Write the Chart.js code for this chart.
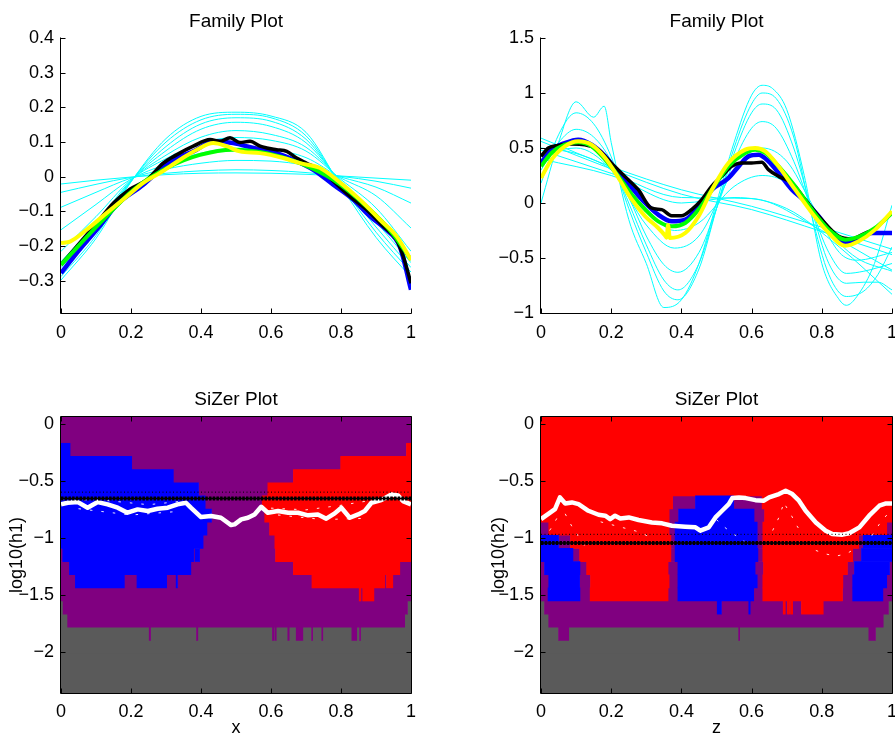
<!DOCTYPE html>
<html>
<head>
<meta charset="utf-8">
<title>Family and SiZer plots</title>
<script src="https://cdn.jsdelivr.net/npm/chart.js@4.4.1/dist/chart.umd.min.js"></script>
<style>
  html, body { margin: 0; padding: 0; background: #fff; }
  body { position: relative; width: 895px; height: 740px; overflow: hidden; }
  canvas { position: absolute; }
</style>
</head>
<body>
<canvas id="fam1" width="440" height="350" style="left:0;top:0"></canvas>
<canvas id="fam2" width="450" height="350" style="left:460px;top:0"></canvas>
<canvas id="siz1" width="440" height="360" style="left:0;top:380px"></canvas>
<canvas id="siz2" width="450" height="360" style="left:460px;top:380px"></canvas>
<script>
Chart.defaults.font.family = "'Liberation Sans', Arial, Helvetica, sans-serif";
Chart.defaults.font.size = 18;
Chart.defaults.color = '#000';

// tick labels
const xTicks = [0, 0.2, 0.4, 0.6, 0.8, 1];
const famTicks1 = [-0.3, -0.2, -0.1, 0, 0.1, 0.2, 0.3, 0.4];
const famTicks2 = [-1, -0.5, 0, 0.5, 1, 1.5];
const sizTicks = [-2, -1.5, -1, -0.5, 0];

// ---- family plot 1 (x) ----
const famX = [0, 0.1, 0.2, 0.3, 0.4, 0.5, 0.6, 0.7, 0.8, 0.9, 1];
const famCyan1 = [
  [-0.021, -0.010, -0.001, 0.006, 0.010, 0.011, 0.010, 0.007, 0.002, -0.004, -0.010],
  [-0.045, -0.022, -0.002, 0.010, 0.017, 0.020, 0.018, 0.012, 0.001, -0.013, -0.033],
  [-0.088, -0.045, -0.004, 0.022, 0.039, 0.047, 0.045, 0.032, -0.001, -0.030, -0.076],
  [-0.153, -0.080, -0.007, 0.036, 0.068, 0.082, 0.078, 0.055, -0.004, -0.055, -0.148],
  [-0.215, -0.115, -0.009, 0.052, 0.097, 0.113, 0.105, 0.074, -0.008, -0.090, -0.215],
  [-0.245, -0.135, -0.011, 0.062, 0.114, 0.133, 0.122, 0.085, -0.012, -0.110, -0.232],
  [-0.262, -0.150, -0.012, 0.075, 0.137, 0.157, 0.145, 0.098, -0.016, -0.130, -0.248],
  [-0.278, -0.160, -0.013, 0.087, 0.152, 0.170, 0.160, 0.108, -0.020, -0.145, -0.262],
  [-0.288, -0.170, -0.014, 0.100, 0.164, 0.180, 0.170, 0.118, -0.024, -0.160, -0.275],
  [-0.298, -0.178, -0.015, 0.110, 0.174, 0.186, 0.175, 0.128, -0.028, -0.175, -0.290]
];
const famBlack1 = [[0,-0.254],[0.045,-0.201],[0.102,-0.134],[0.15,-0.076],[0.197,-0.036],[0.245,-0.009],[0.292,0.039],[0.33,0.063],[0.378,0.088],[0.426,0.107],[0.454,0.102],[0.483,0.112],[0.511,0.099],[0.54,0.102],[0.569,0.088],[0.588,0.083],[0.616,0.078],[0.645,0.073],[0.673,0.054],[0.702,0.039],[0.74,0.02],[0.778,-0.013],[0.826,-0.057],[0.873,-0.095],[0.921,-0.143],[0.959,-0.182],[0.978,-0.23],[1,-0.307]];
const famBlue1 = [[0,-0.278],[0.045,-0.22],[0.11,-0.143],[0.159,-0.081],[0.235,-0.023],[0.283,0.02],[0.33,0.054],[0.378,0.073],[0.435,0.102],[0.492,0.097],[0.55,0.083],[0.616,0.068],[0.664,0.049],[0.721,0.02],[0.778,-0.023],[0.835,-0.066],[0.883,-0.114],[0.93,-0.153],[0.968,-0.201],[1,-0.326]];
const famGreen1 = [[0,-0.254],[0.111,-0.134],[0.207,-0.038],[0.302,0.025],[0.397,0.063],[0.492,0.078],[0.588,0.068],[0.683,0.039],[0.778,-0.009],[0.873,-0.086],[0.95,-0.167],[1,-0.24]];
const famYellow1 = [[0,-0.191],[0.026,-0.187],[0.073,-0.153],[0.13,-0.105],[0.188,-0.057],[0.235,-0.018],[0.283,0.011],[0.34,0.049],[0.388,0.078],[0.435,0.097],[0.473,0.088],[0.511,0.073],[0.569,0.068],[0.635,0.054],[0.683,0.039],[0.74,0.025],[0.788,-0.009],[0.854,-0.066],[0.911,-0.124],[0.959,-0.172],[1,-0.24]];

// ---- family plot 2 (z) ----
const famCyan2 = [
  [[0,0.0],[0.05,0.55],[0.1,0.92],[0.15,0.78],[0.18,0.88],[0.2,0.55],[0.25,-0.15],[0.3,-0.55],[0.35,-0.95],[0.4,-0.88],[0.45,-0.55],[0.5,0.0],[0.55,0.55],[0.6,0.98],[0.63,1.07],[0.66,1.04],[0.7,0.85],[0.75,0.25],[0.8,-0.55],[0.85,-0.88],[0.87,-0.93],[0.9,-0.85],[0.95,-0.55],[1,-0.02]],
  [[0,0.18],[0.05,0.62],[0.1,0.82],[0.15,0.72],[0.2,0.42],[0.25,-0.05],[0.3,-0.45],[0.35,-0.8],[0.39,-0.88],[0.45,-0.6],[0.5,-0.05],[0.55,0.5],[0.6,0.9],[0.63,1.0],[0.67,0.95],[0.72,0.6],[0.77,-0.1],[0.82,-0.65],[0.87,-0.85],[0.92,-0.8],[0.96,-0.65],[1,-0.4]],
  [[0,0.3],[0.05,0.55],[0.1,0.67],[0.15,0.6],[0.2,0.38],[0.25,0.0],[0.3,-0.38],[0.35,-0.7],[0.39,-0.79],[0.45,-0.55],[0.5,-0.05],[0.55,0.45],[0.6,0.82],[0.63,0.9],[0.67,0.85],[0.72,0.5],[0.77,-0.05],[0.82,-0.55],[0.87,-0.73],[0.92,-0.72],[0.96,-0.72],[1,-0.79]],
  [[0,0.42],[0.05,0.5],[0.1,0.56],[0.15,0.5],[0.2,0.33],[0.25,0.05],[0.3,-0.3],[0.35,-0.56],[0.39,-0.63],[0.45,-0.45],[0.5,-0.05],[0.55,0.38],[0.6,0.68],[0.63,0.74],[0.67,0.68],[0.72,0.38],[0.77,-0.05],[0.82,-0.45],[0.87,-0.64],[0.92,-0.62],[1,-0.55]],
  [[0,0.45],[0.1,0.5],[0.2,0.3],[0.3,-0.2],[0.38,-0.41],[0.45,-0.3],[0.55,0.3],[0.63,0.5],[0.7,0.38],[0.77,0.0],[0.85,-0.45],[0.9,-0.52],[1,-0.45]],
  [[0,0.5],[0.1,0.45],[0.2,0.3],[0.3,-0.05],[0.38,-0.25],[0.45,-0.18],[0.55,0.15],[0.63,0.25],[0.7,0.18],[0.8,-0.2],[0.9,-0.5],[1,-0.62]],
  [[0,0.59],[0.2,0.33],[0.4,0.12],[0.6,-0.03],[0.8,-0.22],[1,-0.42]],
  [[0,0.56],[0.2,0.31],[0.4,0.08],[0.6,-0.06],[0.8,-0.26],[1,-0.47]],
  [[0,0.48],[0.2,0.27],[0.4,0.05],[0.6,0.04],[0.8,-0.25],[1,-0.61]],
  [[0,0.4],[0.2,0.25],[0.4,0.0],[0.55,0.05],[0.7,-0.05],[0.85,-0.4],[1,-0.83]]
];
const famBlack2 = [[0,0.424],[0.021,0.5],[0.049,0.524],[0.087,0.536],[0.125,0.53],[0.163,0.485],[0.2,0.364],[0.239,0.242],[0.277,0.121],[0.314,-0.045],[0.344,-0.06],[0.372,-0.115],[0.4,-0.115],[0.429,-0.06],[0.458,0.03],[0.486,0.152],[0.515,0.242],[0.543,0.333],[0.572,0.364],[0.6,0.364],[0.629,0.37],[0.648,0.303],[0.677,0.242],[0.715,0.182],[0.753,0.03],[0.8,-0.152],[0.848,-0.303],[0.886,-0.327],[0.924,-0.273],[0.952,-0.242]];
const famBlue2 = [[0,0.364],[0.03,0.485],[0.068,0.545],[0.106,0.576],[0.144,0.53],[0.183,0.424],[0.221,0.273],[0.259,0.136],[0.297,0.0],[0.334,-0.106],[0.373,-0.167],[0.411,-0.152],[0.449,-0.03],[0.487,0.121],[0.534,0.227],[0.563,0.333],[0.591,0.424],[0.62,0.439],[0.648,0.379],[0.677,0.273],[0.715,0.121],[0.753,0.015],[0.791,-0.121],[0.829,-0.273],[0.867,-0.364],[0.905,-0.333],[0.943,-0.273],[1,-0.273]];
const famGreen2 = [[0,0.333],[0.03,0.455],[0.068,0.53],[0.106,0.552],[0.144,0.515],[0.183,0.394],[0.221,0.242],[0.259,0.076],[0.297,-0.06],[0.334,-0.167],[0.373,-0.212],[0.411,-0.182],[0.449,-0.06],[0.487,0.121],[0.534,0.333],[0.582,0.455],[0.61,0.485],[0.639,0.455],[0.677,0.333],[0.724,0.152],[0.772,-0.06],[0.82,-0.242],[0.867,-0.333],[0.905,-0.309],[0.952,-0.227],[1,-0.091]];
const famYellow2 = [[0,0.227],[0.03,0.394],[0.068,0.515],[0.106,0.561],[0.144,0.53],[0.183,0.409],[0.221,0.227],[0.259,0.03],[0.297,-0.121],[0.334,-0.227],[0.352,-0.29],[0.358,-0.315],[0.362,-0.2],[0.367,-0.318],[0.411,-0.273],[0.449,-0.121],[0.487,0.121],[0.534,0.364],[0.582,0.485],[0.61,0.5],[0.639,0.47],[0.677,0.333],[0.724,0.121],[0.772,-0.091],[0.82,-0.273],[0.867,-0.388],[0.905,-0.348],[0.952,-0.242],[1,-0.076]];

// ---- SiZer maps: one row per bandwidth, runs of [from, to, colour] ----
const logH = [0, -0.115, -0.23, -0.345, -0.46, -0.575, -0.69, -0.805, -0.92, -1.035, -1.15, -1.265, -1.38, -1.495, -1.61, -1.725, -1.84, -1.955, -2.07, -2.185, -2.3];
const sizRows1 = [
  [[0,1,'P']],
  [[0,1,'P']],
  [[0,0.026,'B'],[0.026,0.987,'P'],[0.987,1,'R']],
  [[0,0.202,'B'],[0.202,0.799,'P'],[0.799,1,'R']],
  [[0,0.321,'B'],[0.321,0.664,'P'],[0.664,1,'R']],
  [[0,0.393,'B'],[0.393,0.591,'P'],[0.591,1,'R']],
  [[0,0.412,'B'],[0.412,0.575,'P'],[0.575,1,'R']],
  [[0,0.43,'B'],[0.43,0.582,'P'],[0.582,1,'R']],
  [[0,0.417,'B'],[0.417,0.596,'P'],[0.596,1,'R']],
  [[0,0.406,'B'],[0.406,0.611,'P'],[0.611,1,'R']],
  [[0,0.005,'P'],[0.005,0.379,'B'],[0.379,0.383,'P'],[0.383,0.396,'B'],[0.396,0.613,'P'],[0.613,1,'R']],
  [[0,0.024,'P'],[0.024,0.371,'B'],[0.371,0.664,'P'],[0.664,0.968,'R'],[0.968,1,'P']],
  [[0,0.041,'P'],[0.041,0.181,'B'],[0.181,0.217,'P'],[0.217,0.302,'B'],[0.302,0.329,'P'],[0.329,0.333,'B'],[0.333,0.717,'P'],[0.717,0.925,'R'],[0.925,0.93,'P'],[0.93,0.948,'R'],[0.948,1,'P']],
  [[0,0.852,'P'],[0.852,0.857,'R'],[0.857,0.862,'P'],[0.862,0.894,'R'],[0.894,1,'P']],
  [[0,0.006,'G'],[0.006,0.99,'P'],[0.99,1,'G']],
  [[0,0.019,'G'],[0.019,0.982,'P'],[0.982,1,'G']],
  [[0,0.252,'G'],[0.252,0.256,'P'],[0.256,0.387,'G'],[0.387,0.391,'P'],[0.391,0.604,'G'],[0.604,0.609,'P'],[0.609,0.612,'G'],[0.612,0.615,'P'],[0.615,0.648,'G'],[0.648,0.652,'P'],[0.652,0.672,'G'],[0.672,0.691,'P'],[0.691,0.716,'G'],[0.716,0.719,'P'],[0.719,0.745,'G'],[0.745,0.748,'P'],[0.748,0.831,'G'],[0.831,0.845,'P'],[0.845,0.853,'G'],[0.853,0.856,'P'],[0.856,1,'G']],
  [[0,1,'G']],
  [[0,1,'G']],
  [[0,1,'G']],
  [[0,1,'G']]
];
const sizRows2 = [
  [[0,1,'R']],
  [[0,1,'R']],
  [[0,1,'R']],
  [[0,1,'R']],
  [[0,1,'R']],
  [[0,1,'R']],
  [[0,0.375,'R'],[0.375,0.44,'P'],[0.44,0.549,'B'],[0.549,0.63,'P'],[0.63,1,'R']],
  [[0,0.365,'R'],[0.365,0.392,'P'],[0.392,0.607,'B'],[0.607,0.637,'P'],[0.637,1,'R']],
  [[0,0.022,'P'],[0.022,0.365,'R'],[0.365,0.382,'P'],[0.382,0.616,'B'],[0.616,0.632,'P'],[0.632,0.985,'R'],[0.985,1,'P']],
  [[0,0.05,'B'],[0.05,0.084,'P'],[0.084,0.37,'R'],[0.37,0.382,'P'],[0.382,0.616,'B'],[0.616,0.632,'P'],[0.632,0.905,'R'],[0.905,0.918,'P'],[0.918,1,'B']],
  [[0,0.091,'B'],[0.091,0.11,'P'],[0.11,0.37,'R'],[0.37,0.382,'P'],[0.382,0.618,'B'],[0.618,0.632,'P'],[0.632,0.888,'R'],[0.888,0.913,'P'],[0.913,1,'B']],
  [[0,0.01,'P'],[0.01,0.111,'B'],[0.111,0.13,'P'],[0.13,0.362,'R'],[0.362,0.39,'P'],[0.39,0.61,'B'],[0.61,0.634,'P'],[0.634,0.873,'R'],[0.873,0.893,'P'],[0.893,0.993,'B'],[0.993,1,'P']],
  [[0,0.022,'P'],[0.022,0.11,'B'],[0.11,0.141,'P'],[0.141,0.365,'R'],[0.365,0.39,'P'],[0.39,0.616,'B'],[0.616,0.632,'P'],[0.632,0.86,'R'],[0.86,0.888,'P'],[0.888,0.985,'B'],[0.985,1,'P']],
  [[0,0.02,'P'],[0.02,0.111,'B'],[0.111,0.14,'P'],[0.14,0.362,'R'],[0.362,0.39,'P'],[0.39,0.606,'B'],[0.606,0.632,'P'],[0.632,0.859,'R'],[0.859,0.888,'P'],[0.888,0.974,'B'],[0.974,1,'P']],
  [[0,0.01,'G'],[0.01,0.502,'P'],[0.502,0.514,'B'],[0.514,0.592,'P'],[0.592,0.596,'B'],[0.596,0.69,'P'],[0.69,0.696,'R'],[0.696,0.702,'P'],[0.702,0.708,'R'],[0.708,0.711,'P'],[0.711,0.717,'R'],[0.717,0.742,'P'],[0.742,0.804,'R'],[0.804,0.99,'P'],[0.99,1,'G']],
  [[0,0.022,'G'],[0.022,0.975,'P'],[0.975,1,'G']],
  [[0,0.05,'G'],[0.05,0.079,'P'],[0.079,0.563,'G'],[0.563,0.566,'P'],[0.566,0.934,'G'],[0.934,0.953,'P'],[0.953,1,'G']],
  [[0,1,'G']],
  [[0,1,'G']],
  [[0,1,'G']],
  [[0,1,'G']]
];

// white curve, highlighted bandwidth, dashed window marks
const sizWhite1 = [[0,-0.707],[0.019,-0.693],[0.048,-0.687],[0.076,-0.736],[0.105,-0.687],[0.133,-0.707],[0.162,-0.736],[0.19,-0.78],[0.219,-0.751],[0.248,-0.765],[0.276,-0.745],[0.305,-0.736],[0.333,-0.707],[0.357,-0.693],[0.371,-0.736],[0.4,-0.818],[0.429,-0.809],[0.457,-0.824],[0.486,-0.888],[0.496,-0.882],[0.515,-0.838],[0.534,-0.824],[0.553,-0.795],[0.572,-0.728],[0.591,-0.78],[0.62,-0.765],[0.649,-0.78],[0.677,-0.78],[0.706,-0.803],[0.734,-0.795],[0.758,-0.832],[0.782,-0.786],[0.801,-0.736],[0.825,-0.824],[0.849,-0.795],[0.868,-0.765],[0.887,-0.693],[0.915,-0.67],[0.944,-0.62],[0.963,-0.629],[0.977,-0.678],[1,-0.707]];
const sizWhite2 = [[0,-0.836],[0.021,-0.79],[0.04,-0.748],[0.054,-0.646],[0.069,-0.699],[0.088,-0.69],[0.107,-0.705],[0.135,-0.763],[0.164,-0.798],[0.183,-0.806],[0.197,-0.836],[0.211,-0.806],[0.226,-0.83],[0.25,-0.821],[0.278,-0.844],[0.316,-0.865],[0.345,-0.873],[0.373,-0.894],[0.411,-0.902],[0.44,-0.908],[0.454,-0.937],[0.478,-0.908],[0.497,-0.821],[0.516,-0.763],[0.535,-0.705],[0.545,-0.652],[0.564,-0.646],[0.583,-0.652],[0.611,-0.67],[0.635,-0.675],[0.65,-0.646],[0.678,-0.617],[0.697,-0.588],[0.716,-0.617],[0.735,-0.675],[0.754,-0.763],[0.783,-0.865],[0.811,-0.937],[0.83,-0.967],[0.859,-0.972],[0.878,-0.96],[0.907,-0.908],[0.935,-0.806],[0.964,-0.719],[0.983,-0.699],[1,-0.699]];
const sizBand1 = -0.655, sizBand1b = -0.6;
const sizBand2 = -1.046, sizBand2b = -0.969;
const sizDash1 = [
  [[0,-0.665],[0.12,-0.67],[0.25,-0.71],[0.36,-0.675]],
  [[0.05,-0.745],[0.2,-0.8],[0.33,-0.77]],
  [[0.6,-0.74],[0.7,-0.755],[0.8,-0.715],[0.9,-0.665]],
  [[0.62,-0.8],[0.75,-0.84],[0.86,-0.83]]
];
const sizDash2 = [
  [[0.045,-0.83],[0.03,-0.91],[0.011,-1.0]],
  [[0.069,-0.79],[0.088,-0.9],[0.107,-0.99],[0.126,-1.08]],
  [[0.17,-0.86],[0.22,-0.9],[0.27,-0.94],[0.31,-0.99]],
  [[0.5,-0.84],[0.52,-0.9],[0.55,-0.97],[0.58,-1.03]],
  [[0.688,-0.73],[0.678,-0.82],[0.664,-0.91],[0.65,-1.0]],
  [[0.697,-0.72],[0.711,-0.79],[0.726,-0.88],[0.745,-0.97]],
  [[0.783,-1.11],[0.81,-1.14],[0.84,-1.16],[0.87,-1.14],[0.892,-1.1]],
  [[0.985,-0.8],[0.964,-0.88],[0.945,-0.97],[0.93,-1.04]]
];

const fmt = v => String(v).replace('-', '\u2212');
const pts = arr => arr.map(p => ({ x: p[0], y: p[1] }));

// inward ticks + axis lines, MATLAB style
const frame = {
  id: 'frame',
  afterDraw(chart, args, opts) {
    const { ctx, chartArea: a } = chart;
    const sx = chart.scales.x, sy = chart.scales.y;
    const L = Math.round(a.left) - 0.5, R = Math.round(a.right) + 0.5;
    const T = Math.round(a.top) - 0.5, B = Math.round(a.bottom) + 0.5;
    const tl = 5;
    ctx.save();
    ctx.strokeStyle = '#000';
    ctx.lineWidth = 1;
    ctx.beginPath();
    ctx.moveTo(L, T); ctx.lineTo(L, B); ctx.lineTo(R, B);
    if (opts.box) { ctx.lineTo(R, T); ctx.closePath(); }
    sx.ticks.forEach(t => {
      const p = Math.round(sx.getPixelForValue(t.value)) + 0.5;
      ctx.moveTo(p, B); ctx.lineTo(p, B - tl);
      if (opts.box) { ctx.moveTo(p, T); ctx.lineTo(p, T + tl); }
    });
    sy.ticks.forEach(t => {
      const p = Math.round(sy.getPixelForValue(t.value)) + 0.5;
      ctx.moveTo(L, p); ctx.lineTo(L + tl, p);
      if (opts.box) { ctx.moveTo(R, p); ctx.lineTo(R - tl, p); }
    });
    ctx.stroke();
    ctx.restore();
  }
};

function baseOpts(o) {
  return {
    responsive: false,
    animation: false,
    events: [],
    layout: { padding: { left: 0, right: o.padRight, top: 0, bottom: 0 } },
    plugins: {
      legend: { display: false },
      tooltip: { enabled: false },
      title: {
        display: true, text: o.title, fullSize: false, color: '#000',
        font: { size: 19, weight: 'normal' },
        padding: { top: o.titleTop, bottom: o.titleBottom }
      },
      frame: { box: o.box }
    },
    scales: {
      x: {
        type: 'linear', min: 0, max: 1, offset: false,
        grid: { display: false, drawTicks: false }, border: { display: false },
        ticks: { padding: o.xPad, maxRotation: 0, autoSkip: false, callback: fmt },
        afterBuildTicks: s => { s.ticks = xTicks.map(v => ({ value: v })); },
        title: o.xTitle ? { display: true, text: o.xTitle, padding: { top: 0, bottom: 1 } } : { display: false },
        afterFit: s => { s.height = o.xH; }
      },
      y: {
        type: 'linear', min: o.yMin, max: o.yMax, position: 'left',
        grid: { display: false, drawTicks: false }, border: { display: false },
        ticks: { padding: 7, autoSkip: false, callback: fmt },
        afterBuildTicks: s => { s.ticks = o.yTicks.map(v => ({ value: v })); },
        title: o.yTitle ? { display: true, text: o.yTitle, padding: { top: o.yTitlePad, bottom: 0 } } : { display: false },
        afterFit: s => { s.width = o.yW; }
      }
    }
  };
}

function famSets(cyan, black, blue, green, yellow) {
  const thick = (d, c, w) => ({ data: pts(d), borderColor: c, borderWidth: w, pointRadius: 0, cubicInterpolationMode: 'monotone', borderJoinStyle: 'round' });
  return [
    thick(yellow, '#ffff00', 4),
    thick(green, '#00ff00', 4),
    thick(black, '#000000', 3.5),
    thick(blue, '#0000ff', 4.5),
    ...cyan.map(d => ({ data: pts(d), borderColor: '#00ffff', borderWidth: 1, pointRadius: 0, cubicInterpolationMode: 'monotone' }))
  ];
}

new Chart(document.getElementById('fam1'), {
  type: 'line',
  data: { datasets: famSets(famCyan1.map(c => famX.map((x, i) => [x, c[i]])), famBlack1, famBlue1, famGreen1, famYellow1) },
  options: baseOpts({ title: 'Family Plot', padRight: 29, titleTop: 10, titleBottom: 5.2, xH: 37, xPad: 9, yW: 61, yMin: -0.393, yMax: 0.4, yTicks: famTicks1, box: false }),
  plugins: [frame]
});

new Chart(document.getElementById('fam2'), {
  type: 'line',
  data: { datasets: famSets(famCyan2, famBlack2, famBlue2, famGreen2, famYellow2) },
  options: baseOpts({ title: 'Family Plot', padRight: 18, titleTop: 10, titleBottom: 5.2, xH: 37, xPad: 9, yW: 81, yMin: -1, yMax: 1.5, yTicks: famTicks2, box: false }),
  plugins: [frame]
});

const mapColours = { B: '#0000ff', R: '#ff0000', P: '#800080', G: '#5a5a5a' };

function sizSets(rows, white, band, bandThin, dashes) {
  const line = (d, extra) => Object.assign({ type: 'line', xAxisID: 'x', yAxisID: 'y', data: pts(d), pointRadius: 0, fill: false }, extra);
  const bars = Object.keys(mapColours).map(c => ({
    type: 'bar', indexAxis: 'y', xAxisID: 'x', yAxisID: 'yRows', grouped: false,
    barPercentage: 1, categoryPercentage: 1, borderWidth: 0,
    backgroundColor: mapColours[c],
    data: rows.flatMap((runs, k) => runs.filter(r => r[2] === c).map(r => ({ x: [r[0], r[1]], y: String(logH[k]) })))
  }));
  return [
    line([[0, band], [1, band]], { borderColor: '#000', borderWidth: 4, borderDash: [2.5, 1.2] }),
    line([[0, band], [1, band]], { borderColor: '#000', borderWidth: 1.5 }),
    line([[0, bandThin], [1, bandThin]], { borderColor: '#000', borderWidth: 1, borderDash: [1, 2.5] }),
    line(white, { borderColor: '#ffffff', borderWidth: 4.5, borderJoinStyle: 'round' }),
    ...dashes.map(d => line(d, { borderColor: 'rgba(255,255,255,0.9)', borderWidth: 1, borderDash: [2.5, 9] })),
    ...bars
  ];
}

function sizOpts(o) {
  const opts = baseOpts(o);
  opts.scales.yRows = {
    type: 'category', axis: 'y', position: 'left', display: false, offset: true,
    labels: logH.map(String), grid: { offset: true }
  };
  return opts;
}

new Chart(document.getElementById('siz1'), {
  type: 'bar',
  data: { datasets: sizSets(sizRows1, sizWhite1, sizBand1, sizBand1b, sizDash1) },
  options: sizOpts({ title: 'SiZer Plot', padRight: 29, titleTop: 8, titleBottom: 6.2, xH: 47, xPad: 8, yW: 61, yMin: -2.3575, yMax: 0.0575, yTicks: sizTicks, box: true, xTitle: 'x', yTitle: 'log10(h1)', yTitlePad: 6 }),
  plugins: [frame]
});

new Chart(document.getElementById('siz2'), {
  type: 'bar',
  data: { datasets: sizSets(sizRows2, sizWhite2, sizBand2, sizBand2b, sizDash2) },
  options: sizOpts({ title: 'SiZer Plot', padRight: 18, titleTop: 8, titleBottom: 6.2, xH: 47, xPad: 8, yW: 81, yMin: -2.3575, yMax: 0.0575, yTicks: sizTicks, box: true, xTitle: 'z', yTitle: 'log10(h2)', yTitlePad: 28 }),
  plugins: [frame]
});
</script>
</body>
</html>
